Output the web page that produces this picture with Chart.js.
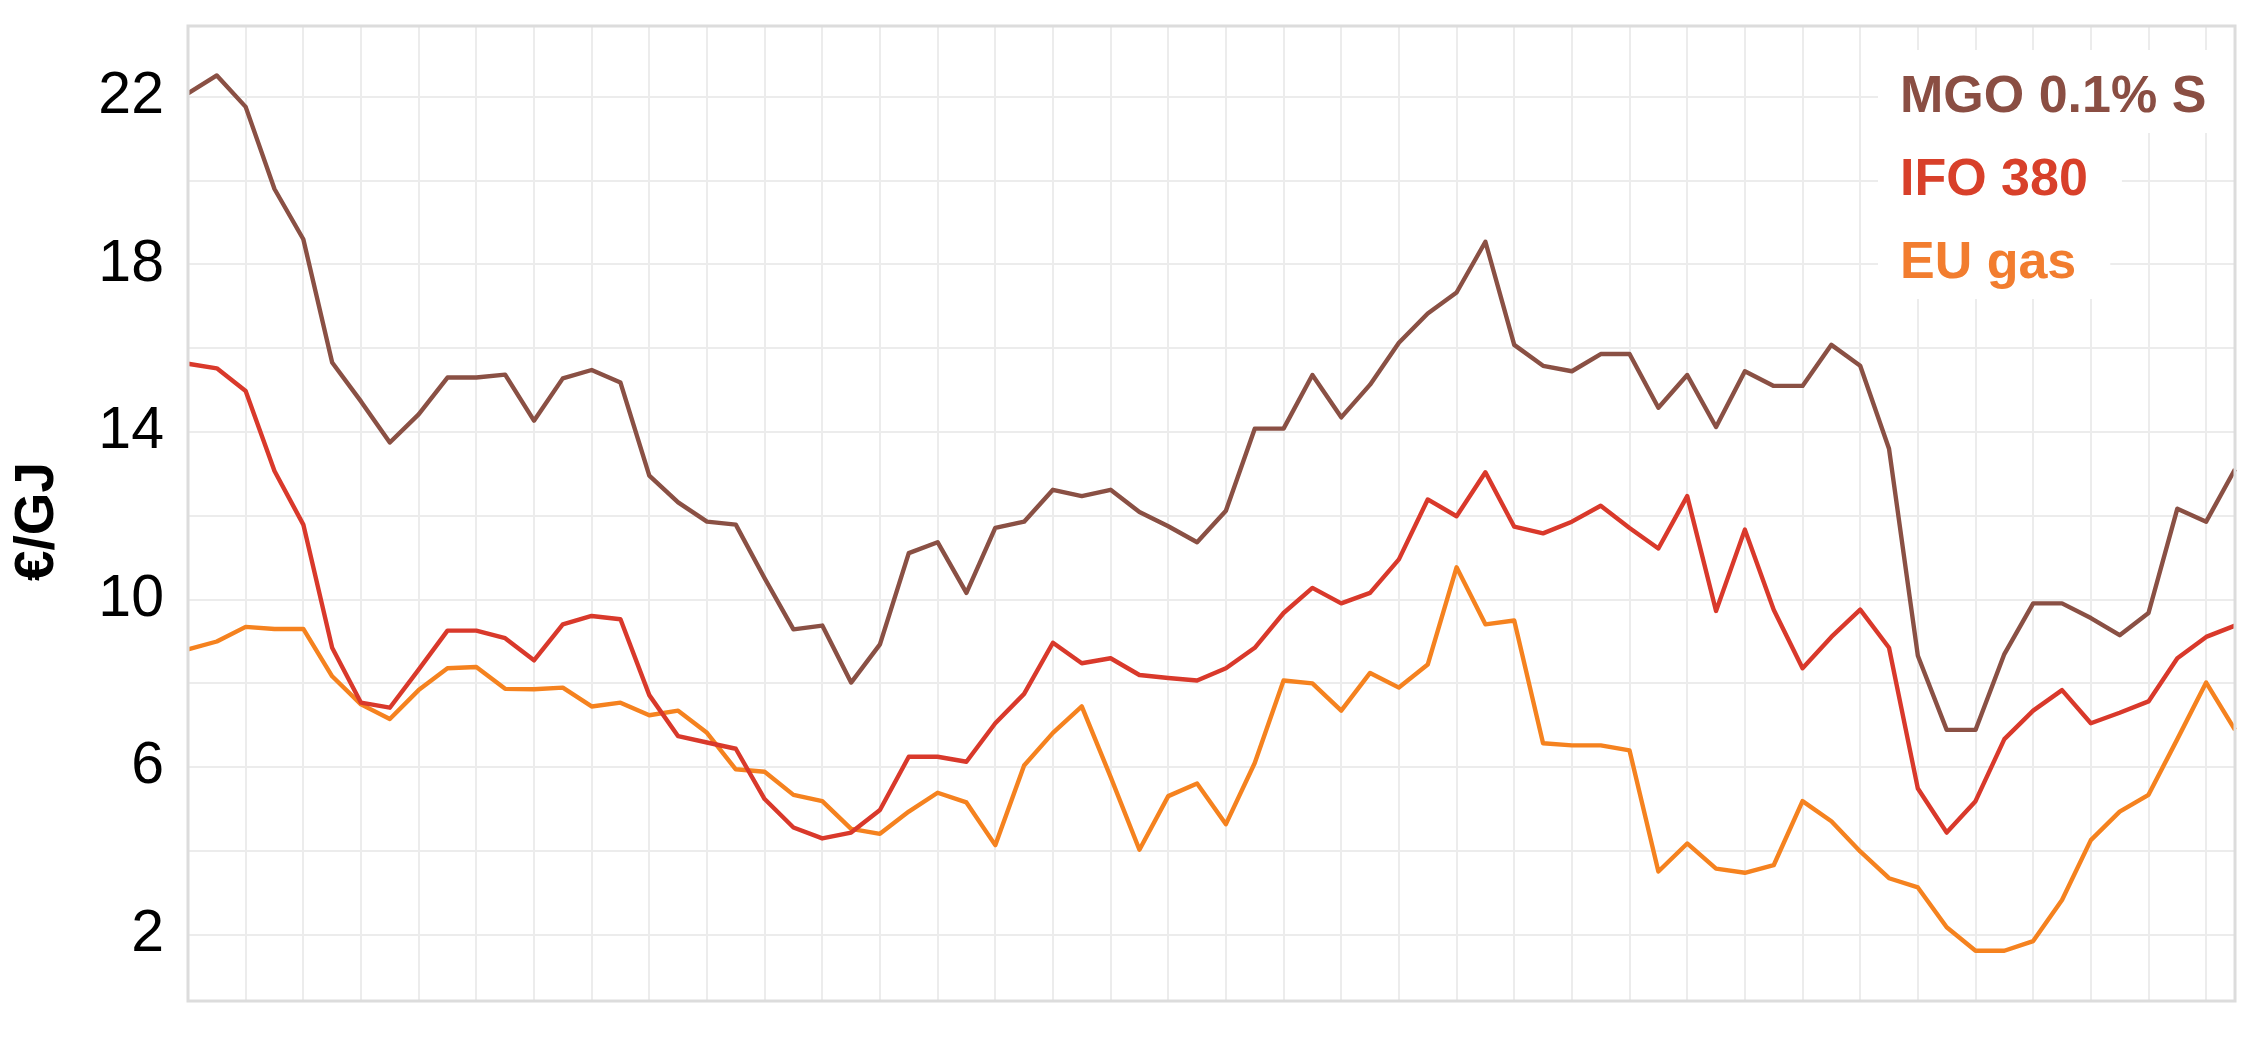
<!DOCTYPE html>
<html>
<head>
<meta charset="utf-8">
<script src="https://cdn.jsdelivr.net/npm/chart.js@4.4.1/dist/chart.umd.min.js"></script>
<style>
  html, body { margin: 0; padding: 0; background: #ffffff; }
  #wrap { width: 2266px; height: 1055px; }
</style>
</head>
<body>
<div id="wrap"><canvas id="c" width="2266" height="1055"></canvas></div>
<script>
// ---- Data ----
const categories = [
  '1','2','3','4','5','6','7','8','9','10','11','12',
  '13','14','15','16','17','18','19','20','21','22','23','24',
  '25','26','27','28','29','30','31','32','33','34','35','36',
  '37','38','39','40','41','42','43','44','45','46','47','48',
  '49','50','51','52','53','54','55','56','57','58','59','60',
  '61','62','63','64','65','66','67','68','69','70','71','72'
];

const mgo = [
  22.08, 22.51, 21.76, 19.80, 18.60, 15.66, 14.73, 13.75, 14.42, 15.30, 15.30, 15.37,
  14.27, 15.28, 15.48, 15.18, 12.96, 12.32, 11.86, 11.79, 10.51, 9.29, 9.38, 8.02,
  8.93, 11.11, 11.37, 10.16, 11.71, 11.86, 12.62, 12.47, 12.62, 12.09, 11.75, 11.37,
  12.12, 14.08, 14.08, 15.36, 14.35, 15.13, 16.13, 16.83, 17.33, 18.54, 16.08, 15.58,
  15.45, 15.86, 15.86, 14.58, 15.36, 14.12, 15.45, 15.10, 15.10, 16.08, 15.58, 13.60,
  8.66, 6.89, 6.89, 8.70, 9.91, 9.91, 9.56, 9.15, 9.68, 12.17, 11.86, 13.11
];

const ifo = [
  15.63, 15.52, 14.98, 13.07, 11.79, 8.85, 7.54, 7.42, 8.33, 9.26, 9.26, 9.08,
  8.55, 9.41, 9.61, 9.53, 7.72, 6.74, 6.59, 6.44, 5.24, 4.56, 4.30, 4.44,
  4.98, 6.25, 6.25, 6.13, 7.05, 7.75, 8.97, 8.48, 8.60, 8.20, 8.13, 8.07,
  8.36, 8.85, 9.68, 10.28, 9.91, 10.16, 10.96, 12.39, 11.99, 13.04, 11.74, 11.58,
  11.86, 12.24, 11.71, 11.22, 12.47, 9.73, 11.67, 9.76, 8.36, 9.11, 9.76, 8.85,
  5.49, 4.44, 5.19, 6.67, 7.35, 7.84, 7.05, 7.30, 7.57, 8.60, 9.11, 9.38
];

const euGas = [
  8.81, 9.00, 9.35, 9.30, 9.30, 8.17, 7.50, 7.15, 7.84, 8.36, 8.39, 7.87,
  7.86, 7.90, 7.45, 7.54, 7.24, 7.35, 6.82, 5.95, 5.89, 5.34, 5.19, 4.53,
  4.41, 4.94, 5.39, 5.16, 4.14, 6.04, 6.82, 7.45, 5.77, 4.03, 5.31, 5.61,
  4.64, 6.10, 8.07, 8.00, 7.35, 8.25, 7.90, 8.45, 10.77, 9.41, 9.50, 6.57,
  6.52, 6.52, 6.40, 3.51, 4.18, 3.58, 3.48, 3.66, 5.19, 4.71, 3.99, 3.35,
  3.13, 2.18, 1.62, 1.62, 1.85, 2.83, 4.26, 4.94, 5.34, 6.67, 8.02, 6.89
];

const seriesNames = ['MGO 0.1% S', 'IFO 380', 'EU gas'];
const yTickValues = [2, 4, 6, 8, 10, 12, 14, 16, 18, 20, 22];
const yTickLabels = ['2', '6', '10', '14', '18', '22'];
const yTitle = '€/GJ';

// ---- Styles ----
const lineColors = ['#8a5044', '#d9392b', '#f5821f'];
const textColors = ['#8a4e43', '#d8402a', '#f27d2f'];
const FONT = "'Liberation Sans', Arial, Helvetica, sans-serif";

// Legend drawn inside the plot area, top-right, with white backing boxes
const insideLegend = {
  id: 'insideLegend',
  afterDatasetsDraw(chart) {
    const ctx = chart.ctx;
    const area = chart.chartArea;
    ctx.save();
    ctx.font = 'bold 52px ' + FONT;
    ctx.textBaseline = 'alphabetic';
    ctx.textAlign = 'left';
    const textX = area.right - 335;
    chart.data.datasets.forEach((ds, i) => {
      const base = area.top + 86 + i * 83;
      const w = ctx.measureText(ds.label).width;
      const x0 = textX - 22;
      const x1 = Math.min(textX + w + 34, area.right);
      ctx.fillStyle = '#ffffff';
      ctx.fillRect(x0, base - 62, x1 - x0, 83);
      ctx.fillStyle = textColors[i];
      ctx.fillText(ds.label, textX, base);
    });
    ctx.restore();
  }
};

// Frame around the plot area + rotated y-axis title
const frame = {
  id: 'frame',
  afterDraw(chart) {
    const ctx = chart.ctx;
    const a = chart.chartArea;
    ctx.save();
    ctx.strokeStyle = '#dcdcdc';
    ctx.lineWidth = 3;
    ctx.strokeRect(a.left, a.top, a.right - a.left, a.bottom - a.top);
    ctx.restore();

    ctx.save();
    ctx.translate(38, (a.top + a.bottom) / 2 + 8);
    ctx.rotate(-Math.PI / 2);
    ctx.font = 'bold 55px ' + FONT;
    ctx.fillStyle = '#000000';
    ctx.textAlign = 'center';
    ctx.textBaseline = 'middle';
    ctx.fillText(yTitle, 0, 0);
    ctx.restore();
  }
};

new Chart(document.getElementById('c'), {
  type: 'line',
  data: {
    labels: categories,
    datasets: [
      { label: seriesNames[0], data: mgo, borderColor: lineColors[0] },
      { label: seriesNames[1], data: ifo, borderColor: lineColors[1] },
      { label: seriesNames[2], data: euGas, borderColor: lineColors[2] }
    ]
  },
  options: {
    responsive: false,
    devicePixelRatio: 1,
    animation: false,
    layout: { padding: { top: 26, right: 31, bottom: 54, left: 0 } },
    elements: {
      line: { borderWidth: 4.4, tension: 0, borderJoinStyle: 'round' },
      point: { radius: 0, hoverRadius: 0 }
    },
    plugins: {
      legend: { display: false },
      tooltip: { enabled: false },
      title: { display: false }
    },
    scales: {
      x: {
        type: 'category',
        offset: false,
        border: { display: false },
        grid: {
          drawTicks: false,
          lineWidth: 2,
          color: (c) => (c.index % 2 === 0 ? '#ececec' : 'rgba(0,0,0,0)')
        },
        ticks: { display: false, autoSkip: false, padding: 0 },
        afterFit(scale) {
          scale.height = 0;
          scale.paddingLeft = 0; scale.paddingRight = 0;
          scale.paddingTop = 0; scale.paddingBottom = 0;
        }
      },
      y: {
        type: 'linear',
        min: 0.42,
        max: 23.69,
        border: { display: false },
        grid: { drawTicks: false, lineWidth: 2, color: '#ececec' },
        afterBuildTicks(scale) {
          scale.ticks = yTickValues.map(v => ({ value: v }));
        },
        ticks: {
          padding: 24,
          color: '#000000',
          font: { family: FONT, size: 59 },
          callback: (v) => (yTickLabels.includes(String(v)) ? String(v) : '')
        },
        title: { display: false, text: yTitle },
        afterFit(scale) {
          scale.width = 188;
          scale.paddingTop = 0; scale.paddingBottom = 0;
          scale.paddingLeft = 0; scale.paddingRight = 0;
        }
      }
    }
  },
  plugins: [insideLegend, frame]
});
</script>
</body>
</html>
